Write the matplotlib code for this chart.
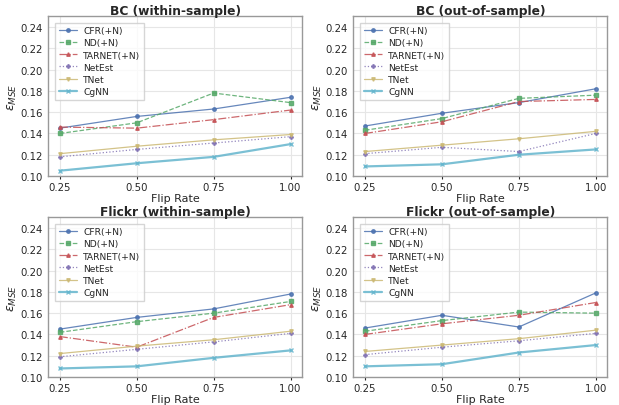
import numpy as np
import matplotlib
matplotlib.use('Agg')
import matplotlib.pyplot as plt
import seaborn as sns

sns.set_style('whitegrid')
plt.rcParams['font.family'] = ['DejaVu Sans']

flip_rates = [0.25, 0.50, 0.75, 1.00]
methods = ['CFR(+N)', 'ND(+N)', 'TARNET(+N)', 'NetEst', 'TNet', 'CgNN']
titles = ['BC (within-sample)', 'BC (out-of-sample)',
          'Flickr (within-sample)', 'Flickr (out-of-sample)']

# BC within-sample
bc_in_cfr = [0.145, 0.156, 0.163, 0.174]
bc_in_nd = [0.140, 0.150, 0.178, 0.169]
bc_in_tarnet = [0.146, 0.145, 0.153, 0.162]
bc_in_netest = [0.118, 0.125, 0.131, 0.137]
bc_in_tnet = [0.121, 0.128, 0.134, 0.139]
bc_in_cgnn = [0.105, 0.112, 0.118, 0.130]

# BC out-of-sample
bc_out_cfr = [0.147, 0.159, 0.169, 0.182]
bc_out_nd = [0.143, 0.154, 0.173, 0.176]
bc_out_tarnet = [0.140, 0.151, 0.170, 0.172]
bc_out_netest = [0.121, 0.127, 0.123, 0.140]
bc_out_tnet = [0.123, 0.129, 0.135, 0.142]
bc_out_cgnn = [0.109, 0.111, 0.120, 0.125]

# Flickr within-sample
fl_in_cfr = [0.145, 0.156, 0.164, 0.178]
fl_in_nd = [0.142, 0.152, 0.160, 0.171]
fl_in_tarnet = [0.138, 0.128, 0.156, 0.168]
fl_in_netest = [0.119, 0.126, 0.133, 0.141]
fl_in_tnet = [0.122, 0.129, 0.135, 0.143]
fl_in_cgnn = [0.108, 0.110, 0.118, 0.125]

# Flickr out-of-sample
fl_out_cfr = [0.146, 0.158, 0.147, 0.179]
fl_out_nd = [0.143, 0.153, 0.161, 0.160]
fl_out_tarnet = [0.140, 0.150, 0.158, 0.170]
fl_out_netest = [0.121, 0.128, 0.134, 0.141]
fl_out_tnet = [0.124, 0.130, 0.136, 0.144]
fl_out_cgnn = [0.110, 0.112, 0.123, 0.130]

panels = [
    [bc_in_cfr, bc_in_nd, bc_in_tarnet, bc_in_netest, bc_in_tnet, bc_in_cgnn],
    [bc_out_cfr, bc_out_nd, bc_out_tarnet, bc_out_netest, bc_out_tnet, bc_out_cgnn],
    [fl_in_cfr, fl_in_nd, fl_in_tarnet, fl_in_netest, fl_in_tnet, fl_in_cgnn],
    [fl_out_cfr, fl_out_nd, fl_out_tarnet, fl_out_netest, fl_out_tnet, fl_out_cgnn],
]

pal = sns.color_palette('deep')
colors = [pal[0], pal[2], pal[3], pal[4], pal[8], pal[9]]
styles = ['-', '--', '-.', ':', '-', '-']
markers = ['o', 's', '^', 'P', 'v', 'x']
widths = [0.9, 0.9, 0.9, 0.9, 0.9, 1.6]

fig, axes = plt.subplots(2, 2, figsize=(6.19, 4.06), dpi=100)
positions = [(0.078, 0.564), (0.571, 0.564), (0.078, 0.069), (0.571, 0.069)]

for k, ax in enumerate(axes.flat):
    ax.set_position([positions[k][0], positions[k][1], 0.410, 0.393])
    for j, name in enumerate(methods):
        ax.plot(flip_rates, panels[k][j], linestyle=styles[j], marker=markers[j],
                color=colors[j], lw=widths[j], markersize=2.5, alpha=0.85, label=name)
    ax.set_ylim(0.10, 0.25)
    ax.set_yticks(np.arange(0.10, 0.245, 0.02))
    ax.set_xticks(flip_rates)
    ax.set_xticklabels(['0.25', '0.50', '0.75', '1.00'])
    ax.tick_params(labelsize=7.3, length=2, pad=2, bottom=True)
    ax.set_title(titles[k], fontsize=8.8, fontweight='bold', pad=2)
    ax.set_xlabel('Flip Rate', fontsize=8, labelpad=1)
    ax.set_ylabel(r'$\epsilon_{MSE}$', fontsize=9, labelpad=1)
    ax.grid(color='#e6e6e6', lw=0.8)
    for s in ax.spines.values():
        s.set_edgecolor('#999999')
        s.set_linewidth(1.0)
    leg = ax.legend(loc='upper left', fontsize=6.6, frameon=True, handlelength=2.0,
                    handletextpad=0.7, borderpad=0.4, labelspacing=0.34,
                    fancybox=False, bbox_to_anchor=(0.008, 0.99))
    leg.get_frame().set_edgecolor('#cccccc')

fig.savefig('out.png', dpi=100)
